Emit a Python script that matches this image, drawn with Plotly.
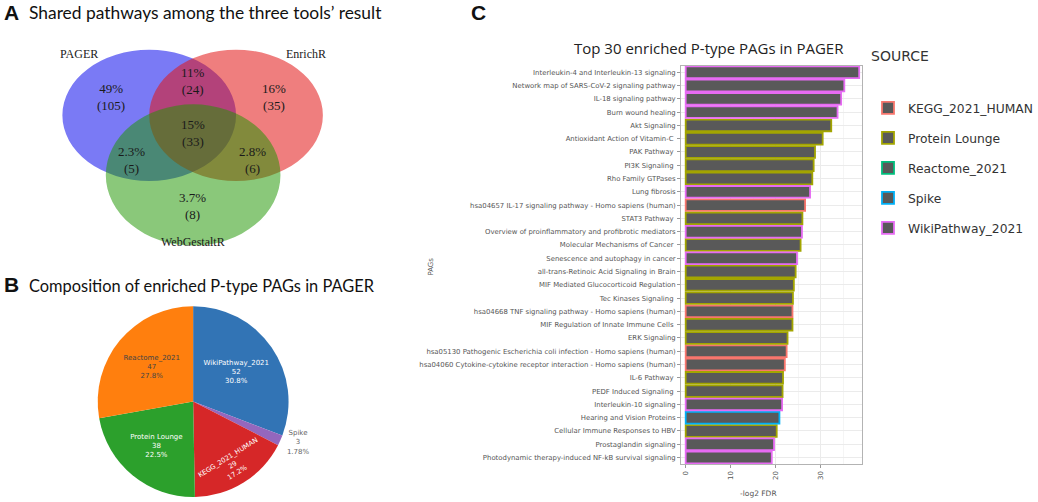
import plotly.graph_objects as go

W, H = 1038, 502

# ---------------- data ----------------
# Panel A: Venn diagram
venn_sets = ["PAGER", "EnrichR", "WebGestaltR"]
venn_regions = ["PAGER only", "PAGER & EnrichR", "EnrichR only", "all three",
                "PAGER & WebGestaltR", "EnrichR & WebGestaltR", "WebGestaltR only"]
venn_counts = [105, 24, 35, 33, 5, 6, 8]

# Panel B: pie
pie_labels = ["WikiPathway_2021", "Spike", "KEGG_2021_HUMAN", "Protein Lounge", "Reactome_2021"]
pie_values = [52, 3, 29, 38, 47]
pie_colors = ["#3274B5", "#9467BD", "#D62728", "#2CA02C", "#FF7F0E"]

# Panel C: bars
pag_names = [
    "Interleukin-4 and Interleukin-13 signaling",
    "Network map of SARS-CoV-2 signaling pathway",
    "IL-18 signaling pathway",
    "Burn wound healing",
    "Akt Signaling",
    "Antioxidant Action of Vitamin-C ",
    "PAK Pathway ",
    "PI3K Signaling ",
    "Rho Family GTPases",
    "Lung fibrosis",
    "hsa04657 IL-17 signaling pathway - Homo sapiens (human)",
    "STAT3 Pathway ",
    "Overview of proinflammatory and profibrotic mediators",
    "Molecular Mechanisms of Cancer ",
    "Senescence and autophagy in cancer",
    "all-trans-Retinoic Acid Signaling in Brain",
    "MIF Mediated Glucocorticoid Regulation",
    "Tec Kinases Signaling ",
    "hsa04668 TNF signaling pathway - Homo sapiens (human)",
    "MIF Regulation of Innate Immune Cells ",
    "ERK Signaling",
    "hsa05130 Pathogenic Escherichia coli infection - Homo sapiens (human)",
    "hsa04060 Cytokine-cytokine receptor interaction - Homo sapiens (human)",
    "IL-6 Pathway ",
    "PEDF Induced Signaling ",
    "Interleukin-10 signaling",
    "Hearing and Vision Proteins",
    "Cellular Immune Responses to HBV",
    "Prostaglandin signaling",
    "Photodynamic therapy-induced NF-kB survival signaling",
]
pag_sources = [
    "WikiPathway_2021", "WikiPathway_2021", "WikiPathway_2021", "WikiPathway_2021",
    "Protein Lounge", "Protein Lounge", "Protein Lounge", "Protein Lounge", "Protein Lounge",
    "WikiPathway_2021", "KEGG_2021_HUMAN", "Protein Lounge", "WikiPathway_2021",
    "Protein Lounge", "WikiPathway_2021", "Protein Lounge", "Protein Lounge", "Protein Lounge",
    "KEGG_2021_HUMAN", "Protein Lounge", "Protein Lounge", "KEGG_2021_HUMAN", "KEGG_2021_HUMAN",
    "Protein Lounge", "Protein Lounge", "WikiPathway_2021", "Spike", "Protein Lounge",
    "WikiPathway_2021", "WikiPathway_2021",
]
pag_scores = [38.5, 35.2, 34.5, 33.7, 32.3, 30.4, 28.7, 28.4, 28.1, 27.6,
              26.5, 25.9, 25.8, 25.5, 24.7, 24.4, 24.0, 23.8, 23.7, 23.7,
              22.6, 22.4, 22.0, 21.6, 21.5, 21.4, 20.8, 20.2, 19.6, 19.1]
legend_sources = ["KEGG_2021_HUMAN", "Protein Lounge", "Reactome_2021", "Spike", "WikiPathway_2021"]
source_colors = ["#F8766D", "#A3A500", "#00BF7D", "#00B0F6", "#E76BF3"]

# ---------------- helpers ----------------
def px(x):
    return x / W

def py(y):
    return 1 - y / H

fig = go.Figure()

# ---------------- Panel C: bar chart ----------------
for src, col in zip(legend_sources, source_colors):
    xs = [s for s, so in zip(pag_scores, pag_sources) if so == src]
    ys = [n for n, so in zip(pag_names, pag_sources) if so == src]
    if not xs:
        xs, ys = [None], [None]
    fig.add_trace(go.Bar(
        x=xs, y=ys, orientation="h", name=src, legendgroup=src,
        width=0.88,
        marker=dict(color="#595959", line=dict(color=col, width=1.8)),
        xaxis="x", yaxis="y", showlegend=True,
    ))

# ---------------- Panel B: pie ----------------
cx, cy, r = 193.5, 404, 96
fig.add_trace(go.Pie(
    labels=pie_labels, values=pie_values, sort=False, direction="clockwise",
    rotation=0, marker=dict(colors=pie_colors),
    textinfo="label+value+percent",
    textposition=["inside", "outside", "inside", "inside", "inside"],
    insidetextorientation="auto",
    textfont=dict(family="DejaVu Sans", size=7),
    outsidetextfont=dict(color="#666666"),
    domain=dict(x=[px(cx - r), px(cx + r)], y=[py(cy + r), py(cy - r)]),
    showlegend=False, hoverinfo="label+value+percent",
))

# ---------------- Panel A: Venn (shapes on pixel-scaled axes) ----------------
ell = [  # center x, center y, rx, ry (pixel layout)
    (149.5, 116, 87, 66),
    (236.5, 116, 87, 66),
    (193.5, 176, 87.5, 71),
]
ell_fill = ["rgba(0,0,236,0.52)", "rgba(225,20,20,0.55)", "rgba(30,150,0,0.52)"]
shapes = []
for (ex, ey, rx, ry), fc in zip(ell, ell_fill):
    shapes.append(dict(type="circle", xref="x2", yref="y2",
                       x0=ex - rx, x1=ex + rx, y0=ey - ry, y1=ey + ry,
                       fillcolor=fc, line=dict(width=0), layer="below"))

annotations = []
total = sum(venn_counts)
region_pos = [(111, 98), (193, 81), (275, 98), (193, 134), (132, 161), (253, 161), (193, 207)]
for (rx_, ry_), c in zip(region_pos, venn_counts):
    pct = "{:.2g}%".format(100 * c / total)
    annotations.append(dict(x=rx_, y=ry_, xref="x2", yref="y2", showarrow=False,
                            text=f"{pct}<br>({c})", align="center",
                            font=dict(family="Liberation Serif", size=13, color="#1a1a1a")))
set_pos = [(79, 54), (307, 54), (193, 243)]
for (sx, sy), nm in zip(set_pos, venn_sets):
    annotations.append(dict(x=sx, y=sy, xref="x2", yref="y2", showarrow=False, text=nm,
                            font=dict(family="Liberation Serif", size=12, color="#1a1a1a")))

# Panel letters and titles
def paper_text(x, y, text, size, family="Lato", color="#111111", bold=False, xanchor="left", angle=0):
    t = f"<b>{text}</b>" if bold else text
    annotations.append(dict(x=px(x), y=py(y), xref="paper", yref="paper", showarrow=False,
                            text=t, xanchor=xanchor, yanchor="middle", textangle=angle,
                            font=dict(family=family, size=size, color=color)))

paper_text(2, 13, "A", 21, family="Liberation Sans", bold=True)
paper_text(27, 13, "Shared pathways among the three tools’ result", 17.4)
paper_text(2, 286, "B", 21, family="Liberation Sans", bold=True)
paper_text(27, 287, "Composition of enriched P-type PAGs in PAGER", 16.4)
paper_text(470, 13, "C", 21, family="Liberation Sans", bold=True)
paper_text(710, 48, "Top 30 enriched P-type PAGs in PAGER", 15, family="Open Sans", xanchor="center", color="#222222")
paper_text(871, 56, "SOURCE", 14, family="DejaVu Sans", color="#333333")
paper_text(432, 268, "PAGs", 7, family="DejaVu Sans", color="#555555", xanchor="center", angle=-90)
paper_text(760, 496, "-log2 FDR", 7.5, family="DejaVu Sans", color="#555555", xanchor="center")

fig.update_layout(
    width=W, height=H,
    margin=dict(l=0, r=0, t=0, b=0),
    paper_bgcolor="white", plot_bgcolor="white",
    barmode="overlay",
    shapes=shapes, annotations=annotations,
    xaxis=dict(domain=[px(682.5), px(864)], range=[-1, 39.2],
               tickvals=[0, 10, 20, 30], tickangle=-90,
               ticks="outside", ticklen=3, tickcolor="#999999",
               tickfont=dict(family="DejaVu Sans", size=7, color="#555555"),
               showgrid=True, gridcolor="#EBEBEB", gridwidth=1,
               minor=dict(dtick=5, tick0=0, showgrid=True, gridcolor="#F5F5F5"),
               zeroline=False, showline=True, mirror=True, linecolor="#B3B3B3", linewidth=1.2,
               automargin=False, fixedrange=True),
    yaxis=dict(domain=[py(467), py(66)],
               categoryorder="array", categoryarray=list(reversed(pag_names)),
               ticks="outside", ticklen=3, tickcolor="#999999",
               tickfont=dict(family="DejaVu Sans", size=6.9, color="#555555"),
               showgrid=True, gridcolor="#EBEBEB",
               zeroline=False, showline=True, mirror=True, linecolor="#B3B3B3", linewidth=1.2,
               automargin=False, fixedrange=True),
    xaxis2=dict(domain=[0, px(360)], range=[0, 360], visible=False, fixedrange=True),
    yaxis2=dict(domain=[py(262), py(30)], range=[262, 30], visible=False, fixedrange=True),
    legend=dict(x=px(870), y=py(94), xanchor="left", yanchor="top",
                font=dict(family="DejaVu Sans", size=12.3, color="#333333"),
                tracegroupgap=11, bgcolor="rgba(0,0,0,0)"),
    showlegend=True,
)

fig.write_html("out.html", config={"displayModeBar": False},
               post_script="document.body.style.margin='0px';document.body.style.overflow='hidden';")
